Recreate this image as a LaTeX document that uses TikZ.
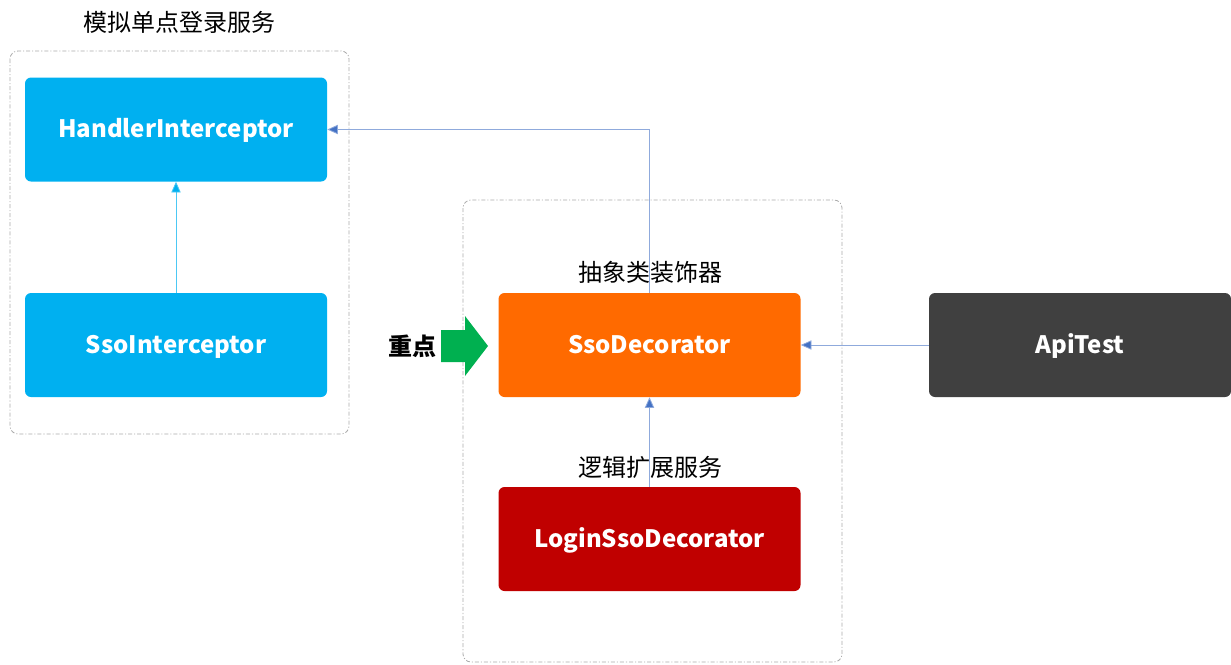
\documentclass[tikz,border=0pt]{standalone}
\usepackage{fontspec}
\setmainfont{Noto Sans CJK SC}
\usetikzlibrary{arrows.meta}

\definecolor{cyanbox}{RGB}{0,176,240}
\definecolor{orangebox}{RGB}{255,106,0}
\definecolor{redbox}{RGB}{192,0,0}
\definecolor{greybox}{RGB}{64,64,64}
\definecolor{linkblue}{RGB}{68,114,196}
\definecolor{linkcyan}{RGB}{0,176,240}
\definecolor{focusgreen}{RGB}{0,176,80}
\definecolor{framegrey}{RGB}{170,170,170}

\tikzset{
  classbox/.style={rounded corners=4.5pt, minimum width=226.5pt, minimum height=78pt,
    inner sep=0pt, text=white, text height=14pt, text depth=1.5pt,
    font=\fontsize{18}{21}\selectfont\bfseries},
  groupframe/.style={draw=framegrey, rounded corners=6pt, line width=0.6pt,
    dash pattern=on 3pt off 1.5pt on 0.8pt off 1.5pt},
  link/.style={line width=0.6pt},
  caption/.style={inner sep=0pt, font=\fontsize{18}{21}\selectfont}
}

\begin{document}
\begin{tikzpicture}[x=0.75pt,y=0.75pt,yscale=-1,xscale=1]
\useasboundingbox (0,0) rectangle (1231,664);

%Groups
\draw [groupframe] (10,51) rectangle (349,434);
\draw [groupframe] (463,200) rectangle (842,662);

%Text Node
\node [caption] (ssotitle) at (179,22) {模拟单点登录服务};
\node [caption] (abstitle) at (650,272) {抽象类装饰器};
\node [caption] (exttitle) at (650,467) {逻辑扩展服务};

%Boxes
\node [classbox, fill=cyanbox] (handler) at (176,129.5) {HandlerInterceptor};
\node [classbox, fill=cyanbox] (ssointer) at (176,345) {SsoInterceptor};
\node [classbox, fill=orangebox] (ssodeco) at (649.5,345) {SsoDecorator};
\node [classbox, fill=redbox] (logindeco) at (649.5,539) {LoginSsoDecorator};
\node [classbox, fill=greybox] (apitest) at (1080,345) {ApiTest};

%Focus arrow
\fill [focusgreen] (441,330) -- (465,330) -- (465,316) -- (488,346) -- (465,376) -- (465,362) -- (441,362) -- cycle;
\node [inner sep=0pt, font=\fontsize{18}{21}\selectfont\bfseries] (focus) at (412,346) {重点};

%Links
\draw [link, draw=linkcyan!70, -{Triangle[length=8pt,width=7pt,fill=linkcyan]}] (ssointer.north) -- (handler.south);
\draw [link, draw=linkblue!60, -{Triangle[length=8pt,width=7pt,fill=linkblue]}] (apitest.west) -- (ssodeco.east);
\draw [link, draw=linkblue!60, -{Triangle[length=8pt,width=7pt,fill=linkblue]}] (logindeco.north) -- (ssodeco.south);
\draw [link, draw=linkblue!60, -{Triangle[length=8pt,width=7pt,fill=linkblue]}] (ssodeco.north) |- (handler.east);

\end{tikzpicture}
\end{document}
